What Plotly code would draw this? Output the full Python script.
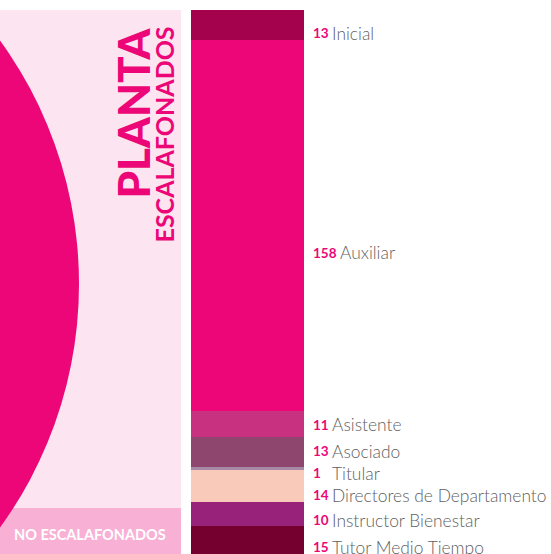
import plotly.graph_objects as go

categories = ["Inicial", "Auxiliar", "Asistente", "Asociado", "Titular",
              "Directores de Departamento", "Instructor Bienestar", "Tutor Medio Tiempo"]
values = [13, 158, 11, 13, 1, 14, 10, 15]
colors = ["#A5024E", "#EC0677", "#C7317F", "#8E466F", "#A78BA6",
          "#F9C9BA", "#98217A", "#75002F"]
label_shift = [8, 27, 1, -1, 5, 9, 6, 4]  # pixel nudges (down) of the labels

W, H = 551, 554
def px(x):
    return x / W
def py(y):
    return 1 - y / H

fig = go.Figure()
for cat, v, c in zip(categories, values, colors):
    fig.add_trace(go.Bar(x=["Planta"], y=[v], name=cat, marker=dict(color=c, line=dict(width=0)),
                         width=1, hoverinfo="name+y"))

fig.update_layout(
    barmode="stack", bargap=0, showlegend=False,
    width=W, height=H, margin=dict(l=0, r=0, t=0, b=0),
    paper_bgcolor="white", plot_bgcolor="rgba(0,0,0,0)",
    xaxis=dict(domain=[px(191), px(304)], range=[-0.5, 0.5], visible=False, fixedrange=True),
    yaxis=dict(domain=[0, py(10)], range=[232, 0], visible=False, fixedrange=True),
)

shapes = [
    dict(type="rect", xref="paper", yref="paper", x0=0, x1=px(181), y0=0, y1=py(10),
         fillcolor="#FCE4F0", line=dict(width=0), layer="below"),
    dict(type="rect", xref="paper", yref="paper", x0=0, x1=px(181), y0=0, y1=py(508),
         fillcolor="#F8B0D5", line=dict(width=0), layer="below"),
    dict(type="circle", xref="paper", yref="paper", x0=px(-336 - 415), x1=px(-336 + 415),
         y0=py(284 + 415), y1=py(284 - 415), fillcolor="#EC0677", line=dict(width=0), layer="below"),
]
fig.update_layout(shapes=shapes)

annotations = [
    dict(text="PLANTA", xref="paper", yref="paper", x=px(132), y=py(26), textangle=-90,
         xanchor="center", yanchor="top", showarrow=False,
         font=dict(family="Lato", size=44, color="#EC0677", weight=900)),
    dict(text="ESCALAFONADOS", xref="paper", yref="paper", x=px(163.5), y=py(25), textangle=-90,
         xanchor="center", yanchor="top", showarrow=False,
         font=dict(family="Lato", size=25, color="#EC0677", weight=700)),
    dict(text="NO ESCALAFONADOS", xref="paper", yref="paper", x=px(90), y=py(534),
         xanchor="center", yanchor="middle", showarrow=False,
         font=dict(family="Lato", size=14.5, color="white", weight=700)),
]

cum = 0
for cat, v, s in zip(categories, values, label_shift):
    mid = cum + v / 2
    cum += v
    annotations.append(dict(text=str(v), xref="paper", yref="y", x=px(311), y=mid, yshift=-s,
                            xanchor="left", yanchor="middle", showarrow=False,
                            font=dict(family="Lato", size=13.5, color="#EC0677", weight=700)))
    annotations.append(dict(text=cat, xref="paper", yref="y",
                            x=px(338 if v >= 100 else 330), y=mid, yshift=-s,
                            xanchor="left", yanchor="middle", showarrow=False,
                            font=dict(family="Lato Light, Lato", size=17.4, color="#5f5f5f", weight=300)))
fig.update_layout(annotations=annotations)

fig.write_html("out.html", config=dict(displayModeBar=False),
               post_script="document.body.style.margin='0';document.body.style.overflow='hidden';")
